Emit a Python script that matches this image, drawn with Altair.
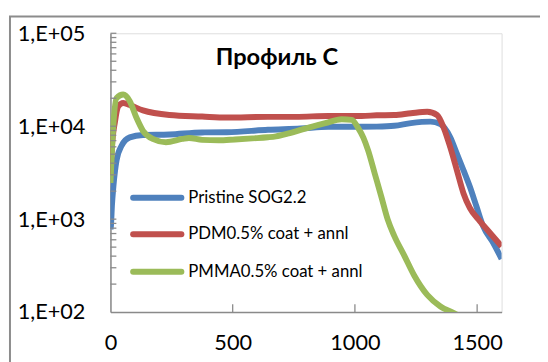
import altair as alt
import pandas as pd

# ---- data ----
blue_x = [0, 2, 6, 12, 25, 46, 79, 133, 241, 375, 476, 644, 778, 891, 1027, 1089, 1161, 1229, 1309, 1350, 1390, 1417, 1444, 1470, 1497, 1524, 1565, 1600]
blue_y = [780, 850, 1400, 2240, 4300, 6200, 7590, 8050, 8150, 8570, 8600, 9150, 9450, 9860, 9860, 9900, 10100, 10800, 11200, 10500, 7590, 5060, 3370, 2240, 1375, 844, 560, 374]

red_x = [0, 5, 19, 32, 52, 79, 133, 241, 375, 476, 644, 758, 892, 1027, 1089, 1161, 1229, 1296, 1336, 1363, 1390, 1417, 1444, 1470, 1511, 1551, 1600]
red_y = [3000, 5500, 11400, 16400, 17800, 16900, 14800, 13200, 12700, 12400, 12600, 12600, 12900, 12900, 13100, 13200, 13800, 14300, 13200, 9680, 5940, 3370, 1900, 1320, 952, 718, 510]

green_x = [0, 12, 25, 52, 79, 106, 133, 173, 227, 294, 321, 375, 442, 509, 580, 644, 677, 724, 811, 879, 946, 987, 1013, 1035, 1054, 1081, 1108, 1134, 1161, 1202, 1242, 1296, 1350, 1403, 1430]
green_y = [2450, 10500, 20100, 21900, 18600, 12400, 8930, 7300, 6720, 7300, 7480, 7130, 7050, 7200, 7400, 7600, 7780, 8300, 9680, 10800, 11900, 11700, 9600, 7500, 5490, 3100, 1750, 993, 661, 405, 249, 153, 115, 98, 90]

series_names = ["Pristine SOG2.2", "PDM0.5% coat + annl", "PMMA0.5% coat + annl"]
series_colors = ["#4F81BD", "#C0504D", "#9BBB59"]

x_ticks = [0, 500, 1000, 1500]
y_ticks = [100, 1000, 10000, 100000]
y_minor = [m * d for d in [100, 1000, 10000] for m in range(2, 10)] + [1000, 10000, 100000]
x_inner_ticks = [500, 1000, 1500]

title_text = "Профиль С"

# ---- build ----
frames = []
for name, xs, ys in zip(series_names, [blue_x, red_x, green_x], [blue_y, red_y, green_y]):
    frames.append(pd.DataFrame({"x": xs, "y": ys, "series": name}))
df = pd.concat(frames, ignore_index=True)

W, H = 397, 283
AX = "#8a8a8a"
FONT = "Lato"

x_scale = alt.Scale(domain=[0, 1600], nice=False, zero=False)
y_scale = alt.Scale(type="log", domain=[100, 100000], nice=False)
color_scale = alt.Scale(domain=series_names, range=series_colors)

x_axis = alt.Axis(values=x_ticks, format="d", ticks=False, grid=False, domainColor=AX, domainWidth=1.5,
                  labelFont=FONT, labelFontSize=22, labelColor="black", labelPadding=21,
                  labelFlush=False, labelOverlap=False, title=None)
y_axis = alt.Axis(values=y_ticks, labelExpr="'1,E+0' + round(log(datum.value)/LN10)",
                  ticks=False, grid=False, domainColor=AX, domainWidth=1.5,
                  labelFont=FONT, labelFontSize=22, labelColor="black", labelPadding=26,
                  labelFlush=False, labelOverlap=False, title=None)

layers = []

# outer border of chart area
border = alt.Chart(pd.DataFrame({"a": [0]})).mark_rect(
    fillOpacity=0, stroke="#8c8c8c", strokeWidth=2
).encode(x=alt.value(-102), x2=alt.value(800), y=alt.value(-17), y2=alt.value(800))
layers.append(border)

for name in series_names:
    layers.append(
        alt.Chart(df).transform_filter(alt.datum.series == name).mark_line(
            strokeWidth=6, clip=True, interpolate="monotone"
        ).encode(
            x=alt.X("x:Q", scale=x_scale, axis=x_axis),
            y=alt.Y("y:Q", scale=y_scale, axis=y_axis),
            color=alt.Color("series:N", scale=color_scale, legend=None),
        )
    )

# inward ticks
ytick_df = pd.DataFrame({"y": y_minor})
layers.append(
    alt.Chart(ytick_df).mark_rule(color=AX, strokeWidth=1.3).encode(
        y=alt.Y("y:Q", scale=y_scale, axis=y_axis), x=alt.value(0), x2=alt.value(6)
    )
)
xtick_df = pd.DataFrame({"x": x_inner_ticks})
layers.append(
    alt.Chart(xtick_df).mark_rule(color=AX, strokeWidth=1.3).encode(
        x=alt.X("x:Q", scale=x_scale, axis=x_axis), y=alt.value(H), y2=alt.value(H - 8)
    )
)

# title inside plot
layers.append(
    alt.Chart(pd.DataFrame({"t": [title_text]})).mark_text(
        font=FONT, fontSize=24, fontWeight="bold", color="black", align="center", baseline="alphabetic"
    ).encode(text="t:N", x=alt.value(169), y=alt.value(32))
)

# legend inside plot
leg_rows_y = [167, 204, 242]
for name, color, ly in zip(series_names, series_colors, leg_rows_y):
    ldf = pd.DataFrame({"t": [name]})
    layers.append(
        alt.Chart(ldf).mark_rule(color=color, strokeWidth=6, strokeCap="round").encode(
            x=alt.value(23), x2=alt.value(72), y=alt.value(ly)
        )
    )
    layers.append(
        alt.Chart(ldf).mark_text(font=FONT, fontSize=17, color="black", align="left", baseline="middle").encode(
            text="t:N", x=alt.value(79), y=alt.value(ly)
        )
    )

chart = alt.layer(*layers).properties(
    width=W, height=H,
    padding={"left": 104, "top": 23, "right": 39, "bottom": 48},
    autosize=alt.AutoSizeParams(type="none"),
).configure_view(stroke="transparent").configure(background="white")

chart.save("out.html", embed_options={"renderer": "svg", "actions": False})
